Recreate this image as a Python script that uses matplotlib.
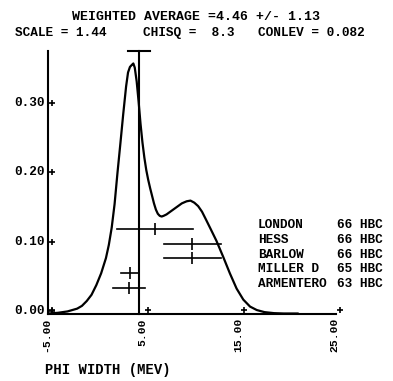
import matplotlib
matplotlib.use("Agg")
import matplotlib.pyplot as plt
from matplotlib.transforms import ScaledTranslation, blended_transform_factory

# ---- data ----
curve_x = [-5.0, -4.0, -3.0, -2.0, -1.5, -1.0, -0.5, 0.0, 0.5, 1.0, 1.3, 1.6, 1.9,
           2.2, 2.5, 2.8, 3.1, 3.3, 3.5, 3.7, 3.85, 4.0, 4.2, 4.4, 4.6, 4.8, 5.0,
           5.2, 5.4, 5.6, 5.8, 6.0, 6.2, 6.4, 6.6, 6.8, 7.0, 7.3, 7.7, 8.3, 8.9,
           9.4, 9.8, 10.2, 10.6, 11.0, 11.4, 11.9, 12.5, 13.2, 13.9, 14.6, 15.3,
           16.0, 16.7, 17.5, 18.5, 19.5, 21.0]
curve_y = [0.000, 0.001, 0.003, 0.007, 0.011, 0.018, 0.027, 0.041, 0.058, 0.080,
           0.099, 0.124, 0.158, 0.203, 0.245, 0.288, 0.328, 0.348, 0.356, 0.359,
           0.361, 0.355, 0.335, 0.306, 0.274, 0.247, 0.225, 0.207, 0.193, 0.181,
           0.170, 0.159, 0.150, 0.144, 0.141, 0.140, 0.141, 0.143, 0.147, 0.153,
           0.159, 0.162, 0.163, 0.160, 0.155, 0.147, 0.136, 0.122, 0.105, 0.082,
           0.058, 0.036, 0.020, 0.010, 0.005, 0.002, 0.0005, 0.0, 0.0]

experiments = ["LONDON", "HESS", "BARLOW", "MILLER D", "ARMENTERO"]
years = ["66", "66", "66", "65", "63"]
techniques = ["HBC", "HBC", "HBC", "HBC", "HBC"]
values = [6.1, 10.0, 10.0, 3.5, 3.4]
errors = [4.0, 3.0, 3.0, 0.95, 1.7]

avg = 4.46
avg_err = 1.13
scale = 1.44
chisq = 8.3
conlev = 0.082

xticks = [-5, 5, 15, 25]
yticks = [0.0, 0.1, 0.2, 0.3]

# ---- layout ----
W, H, DPI = 393, 381, 100
fig = plt.figure(figsize=(W / DPI, H / DPI), dpi=DPI)
fig.patch.set_facecolor("white")
ax = fig.add_axes([48.3 / W, 1 - 313.5 / H, (336.5 - 48.3) / W, (313.5 - 51) / H])
XMIN, XMAX, YTOP = -5, 25, 0.379
ax.set_xlim(XMIN, XMAX)
ax.set_ylim(0, YTOP)
for s in ["top", "right"]:
    ax.spines[s].set_visible(False)
for s in ["left", "bottom"]:
    ax.spines[s].set_linewidth(1.5)
ax.set_xticks([])
ax.set_yticks([])
ax.patch.set_alpha(0)

FONT = dict(family=["Liberation Mono", "DejaVu Sans Mono"], weight="bold", color="black")
FS = 9.2

def off(dx, dy):
    return ScaledTranslation(dx / DPI, dy / DPI, fig.dpi_scale_trans)

# curve
ax.plot(curve_x, curve_y, color="black", lw=1.6, clip_on=False,
        solid_joinstyle="round", solid_capstyle="round")

# weighted average line with error cap
ax.plot([avg, avg], [0, YTOP], color="black", lw=1.5, clip_on=False)
ax.plot([avg - avg_err, avg + avg_err], [YTOP, YTOP], color="black", lw=1.5, clip_on=False)

# measurement bars
row_top, row_step = 0.122, 0.0212
bar_y = [row_top - i * row_step for i in range(len(values))]
for v, e, y in zip(values, errors, bar_y):
    ax.plot([v - e, v + e], [y, y], color="black", lw=1.2, clip_on=False)
    ax.plot([v], [y], marker="|", ms=8, mew=1.2, color="black", clip_on=False)

# legend texts
bt = blended_transform_factory(fig.transFigure, ax.transData)
for name, yr, tech, y in zip(experiments, years, techniques, bar_y):
    fig.text(257.7 / W, y, name, transform=bt + off(0, 0.8), ha="left", va="baseline",
             fontsize=FS, **FONT)
    fig.text(336.7 / W, y, f"{yr} {tech}", transform=bt + off(0, 0.8), ha="left",
             va="baseline", fontsize=FS, **FONT)

# ticks as plus signs
for xt in xticks:
    ax.plot([xt], [0], marker="+", ms=5, mew=1.2, color="black", clip_on=False,
            transform=ax.transData + off(3.4, 3.5))
    ax.text(xt, 0, f"{xt:.2f}", rotation=90, ha="center", va="top", fontsize=8.2,
            transform=ax.transData + off(-2.5, -4.5), **FONT)
ybt = blended_transform_factory(ax.transAxes, ax.transData)
for yt in yticks:
    ax.plot([0], [yt], marker="+", ms=5, mew=1.2, color="black", clip_on=False,
            transform=ybt + off(3.5, 2.5))
    ax.text(0, yt, f"{yt:.2f}", ha="right", va="center", fontsize=FS,
            transform=ybt + off(-3.3, 2.5), **FONT)

# header
fig.text(71.7 / W, 1 - 17.3 / H, f"WEIGHTED AVERAGE ={avg:.2f} +/- {avg_err:.2f}",
         ha="left", va="center", fontsize=9.5, **FONT)
y2 = 1 - 33.3 / H
fig.text(15 / W, y2, f"SCALE = {scale:.2f}", ha="left", va="center", fontsize=FS, **FONT)
fig.text(143.3 / W, y2, f"CHISQ =  {chisq:.1f}", ha="left", va="center", fontsize=FS, **FONT)
fig.text(258 / W, y2, f"CONLEV = {conlev:.3f}", ha="left", va="center", fontsize=FS, **FONT)

# axis title
fig.text(45 / W, 1 - 370 / H, "PHI WIDTH (MEV)", ha="left", va="center", fontsize=10, **FONT)

fig.savefig("out.png", dpi=DPI, facecolor="white")
